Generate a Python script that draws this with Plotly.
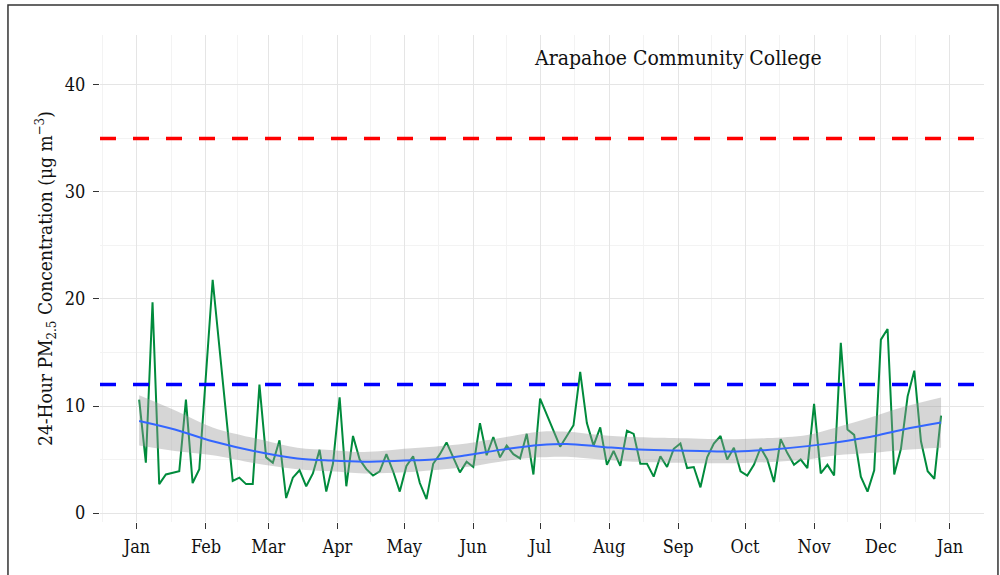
import plotly.graph_objects as go
import pandas as pd

# 24-hour PM2.5 samples (every third day)
sample_dates = [
    "2013-01-02", "2013-01-05", "2013-01-08", "2013-01-11", "2013-01-14",
    "2013-01-20", "2013-01-23", "2013-01-26", "2013-01-29", "2013-02-04",
    "2013-02-13", "2013-02-16", "2013-02-19", "2013-02-22", "2013-02-25",
    "2013-02-28", "2013-03-03", "2013-03-06", "2013-03-09", "2013-03-12",
    "2013-03-15", "2013-03-18", "2013-03-21", "2013-03-24", "2013-03-27",
    "2013-03-30", "2013-04-02", "2013-04-05", "2013-04-08", "2013-04-11",
    "2013-04-14", "2013-04-17", "2013-04-20", "2013-04-23", "2013-04-26",
    "2013-04-29", "2013-05-02", "2013-05-05", "2013-05-08", "2013-05-11",
    "2013-05-14", "2013-05-17", "2013-05-20", "2013-05-23", "2013-05-26",
    "2013-05-29", "2013-06-01", "2013-06-04", "2013-06-07", "2013-06-10",
    "2013-06-13", "2013-06-16", "2013-06-19", "2013-06-22", "2013-06-25",
    "2013-06-28", "2013-07-01", "2013-07-10", "2013-07-16", "2013-07-19",
    "2013-07-22", "2013-07-25", "2013-07-28", "2013-07-31", "2013-08-03",
    "2013-08-06", "2013-08-09", "2013-08-12", "2013-08-15", "2013-08-18",
    "2013-08-21", "2013-08-24", "2013-08-27", "2013-08-30", "2013-09-02",
    "2013-09-05", "2013-09-08", "2013-09-11", "2013-09-14", "2013-09-17",
    "2013-09-20", "2013-09-23", "2013-09-26", "2013-09-29", "2013-10-02",
    "2013-10-05", "2013-10-08", "2013-10-11", "2013-10-14", "2013-10-17",
    "2013-10-20", "2013-10-23", "2013-10-26", "2013-10-29", "2013-11-01",
    "2013-11-04", "2013-11-07", "2013-11-10", "2013-11-13", "2013-11-16",
    "2013-11-19", "2013-11-22", "2013-11-25", "2013-11-28", "2013-12-01",
    "2013-12-04", "2013-12-07", "2013-12-10", "2013-12-13", "2013-12-16",
    "2013-12-19", "2013-12-22", "2013-12-25", "2013-12-28",
]
pm25 = [
    10.6, 4.7, 19.7, 2.7, 3.6,
    3.9, 10.6, 2.8, 4.1, 21.8,
    3.0, 3.3, 2.7, 2.7, 12.0,
    5.2, 4.7, 6.8, 1.4, 3.3,
    4.0, 2.5, 3.7, 5.9, 2.0,
    4.6, 10.8, 2.5, 7.2, 5.0,
    4.1, 3.5, 3.9, 5.5, 3.9,
    2.0, 4.4, 5.3, 2.8, 1.3,
    4.6, 5.5, 6.6, 5.2, 3.8,
    4.8, 4.3, 8.4, 5.4, 7.1,
    5.2, 6.3, 5.5, 5.1, 7.4,
    3.6, 10.7, 6.2, 8.2, 13.2,
    8.4, 6.3, 8.0, 4.5, 5.8,
    4.4, 7.7, 7.4, 4.6, 4.6,
    3.4, 5.3, 4.3, 6.0, 6.5,
    4.2, 4.3, 2.4, 5.2, 6.5,
    7.2, 5.0, 6.1, 3.9, 3.5,
    4.5, 6.1, 5.0, 2.9, 6.9,
    5.6, 4.5, 5.0, 4.2, 10.2,
    3.7, 4.5, 3.5, 15.9, 7.8,
    7.3, 3.4, 2.0, 4.0, 16.2,
    17.2, 3.6, 6.0, 10.9, 13.3,
    6.7, 3.9, 3.2, 9.1,
]

# Smoothed trend with its confidence band
smooth_dates = [
    "2013-01-02", "2013-01-18", "2013-02-04", "2013-02-27", "2013-03-14",
    "2013-03-29", "2013-04-13", "2013-05-01", "2013-05-14", "2013-05-29",
    "2013-06-13", "2013-07-01", "2013-07-13", "2013-07-28", "2013-08-12",
    "2013-08-30", "2013-09-11", "2013-09-27", "2013-10-11", "2013-10-29",
    "2013-11-11", "2013-11-26", "2013-12-11", "2013-12-28",
]
smooth_fit = [8.6, 7.8, 6.7, 5.6, 5.1, 4.9, 4.8, 4.9, 5.0, 5.4, 5.9, 6.35,
              6.45, 6.2, 5.95, 5.85, 5.8, 5.75, 5.9, 6.25, 6.6, 7.1, 7.8, 8.45]
smooth_lo = [6.3, 5.8, 5.4, 4.5, 4.1, 3.9, 3.7, 3.8, 4.0, 4.3, 4.8, 5.2,
             5.25, 5.0, 4.8, 4.7, 4.65, 4.65, 4.75, 5.0, 5.4, 5.6, 5.9, 6.1]
smooth_hi = [11.0, 9.6, 8.0, 6.8, 6.1, 5.9, 5.7, 6.0, 6.2, 6.5, 7.0, 7.6,
             7.6, 7.3, 7.1, 7.0, 6.95, 6.9, 7.0, 7.3, 8.0, 8.9, 9.9, 10.8]

# Standards
annual_standard = 12
daily_standard = 35

site_name = "Arapahoe Community College"
y_ticks = [0, 10, 20, 30, 40]

FONT = "DejaVu Serif Condensed, Liberation Serif, serif"

month_starts = pd.date_range("2013-01-01", "2014-01-01", freq="MS")
month_mids = [month_starts[i] + (month_starts[i + 1] - month_starts[i]) / 2
              for i in range(len(month_starts) - 1)]
month_mids = [pd.Timestamp("2012-12-16 12:00")] + month_mids + [pd.Timestamp("2014-01-16 12:00")]

fig = go.Figure()

fig.add_trace(go.Scatter(
    x=sample_dates, y=pm25, mode="lines",
    line=dict(color="#008B3C", width=2), hoverinfo="x+y", showlegend=False,
))
fig.add_trace(go.Scatter(
    x=smooth_dates, y=smooth_lo, mode="lines", line=dict(width=0, shape="spline"),
    showlegend=False, hoverinfo="skip",
))
fig.add_trace(go.Scatter(
    x=smooth_dates, y=smooth_hi, mode="lines", line=dict(width=0, shape="spline"),
    fill="tonexty", fillcolor="rgba(153,153,153,0.4)",
    showlegend=False, hoverinfo="skip",
))
fig.add_trace(go.Scatter(
    x=smooth_dates, y=smooth_fit, mode="lines",
    line=dict(color="#3366FF", width=2, shape="spline"), showlegend=False,
))

for level, color in [(daily_standard, "#FF0000"), (annual_standard, "#0000FF")]:
    fig.add_shape(type="line", xref="paper", x0=0, x1=1, yref="y", y0=level, y1=level,
                  line=dict(color=color, width=3.5, dash="16px,17px"), layer="above")

# outer frame
fig.add_shape(type="rect", xref="paper", yref="paper",
              x0=-0.1041, x1=1.0158, y0=-0.13, y1=1.0616,
              line=dict(color="#333333", width=1.5), layer="above")

fig.add_annotation(text=site_name, xref="paper", yref="paper", x=0.6535, y=0.953,
                   showarrow=False, font=dict(family=FONT, size=21, color="#111"),
                   xanchor="center", yanchor="middle")

fig.update_layout(
    width=1000, height=575,
    margin=dict(l=100, r=16, t=35, b=53),
    paper_bgcolor="white", plot_bgcolor="white",
    font=dict(family=FONT, size=18, color="#111"),
    showlegend=False,
)
fig.update_xaxes(
    type="date",
    range=["2012-12-15 10:00", "2014-01-16 07:00"],
    tickvals=list(month_starts), tickformat="%b",
    ticks="outside", ticklen=6, tickcolor="#333", tickwidth=1.2,
    ticklabelstandoff=2,
    showgrid=True, gridcolor="#E5E5E5", gridwidth=1,
    minor=dict(tickvals=month_mids, showgrid=True, gridcolor="#F3F3F3", gridwidth=1, ticks=""),
    zeroline=False, showline=False,
    tickfont=dict(family=FONT, size=18, color="#111"),
)
fig.update_yaxes(
    range=[-0.84, 44.67],
    tickvals=y_ticks,
    ticks="outside", ticklen=6, tickcolor="#333", tickwidth=1.2,
    ticklabelstandoff=4,
    showgrid=True, gridcolor="#E5E5E5", gridwidth=1,
    minor=dict(tickvals=[5, 15, 25, 35], showgrid=True, gridcolor="#F3F3F3", gridwidth=1, ticks=""),
    zeroline=False, showline=False,
    tickfont=dict(family=FONT, size=18, color="#111"),
    title=dict(text="24-Hour PM<sub>2.5</sub> Concentration (μg m<sup>−3</sup>)",
               font=dict(family=FONT, size=19, color="#111"), standoff=7),
)

fig.write_html("out.html")
